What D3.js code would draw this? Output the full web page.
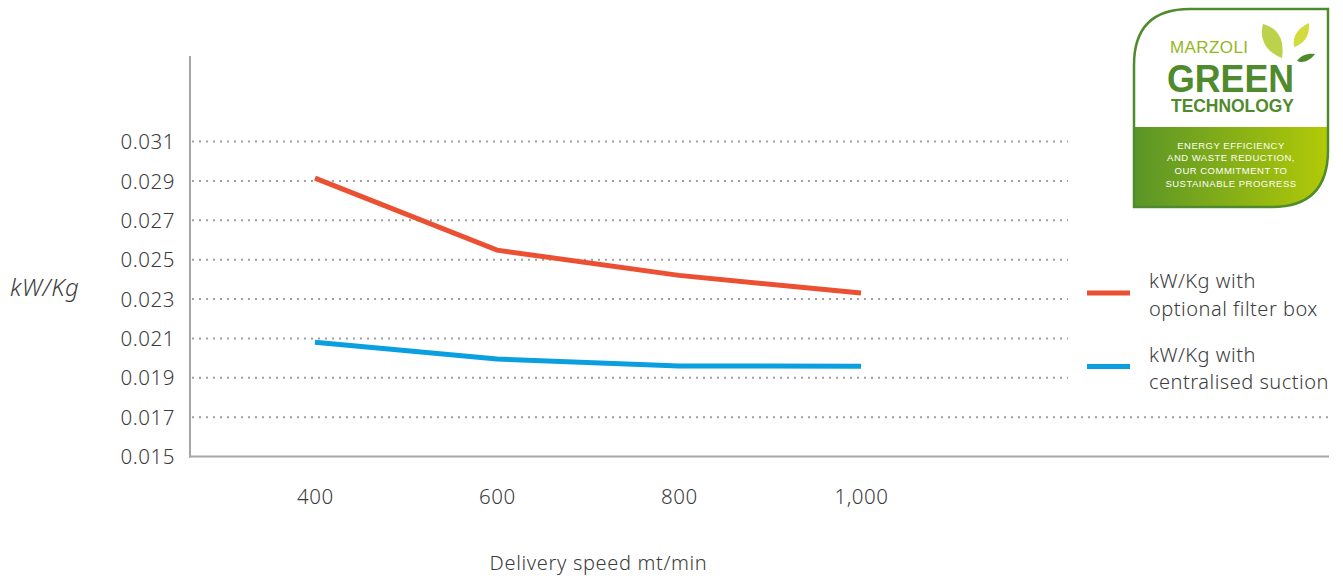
<!DOCTYPE html>
<html>
<head>
<meta charset="utf-8">
<script src="https://cdn.jsdelivr.net/npm/d3@7"></script>
<style>
  html, body { margin: 0; padding: 0; background: #fff; }
  text { font-family: "Noto Sans", sans-serif; font-weight: 300; fill: #3c3c3c; }
  .logo { font-family: "Liberation Sans", sans-serif; }
</style>
</head>
<body>
<div id="chart"></div>
<script>
// chart data
const speeds = [400, 600, 800, 1000];
const filterBox = [0.02914, 0.02548, 0.0242, 0.0233];
const centralised = [0.0208, 0.01995, 0.0196, 0.01958];
const yTicks = [0.015, 0.017, 0.019, 0.021, 0.023, 0.025, 0.027, 0.029, 0.031];
const logoBody = ["ENERGY EFFICIENCY", "AND WASTE REDUCTION,", "OUR COMMITMENT TO", "SUSTAINABLE PROGRESS"];

const svg = d3.select("#chart").append("svg")
  .attr("width", 1343).attr("height", 576)
  .style("display", "block");

const xScale = d3.scaleLinear().domain([400, 1000]).range([315, 861]);
const yScale = d3.scaleLinear().domain([0.015, 0.031]).range([456.5, 141.5]);

// dotted grid, the lowest one runs on past the others
svg.append("g").selectAll("line")
  .data(yTicks.slice(1))
  .enter().append("line")
  .attr("x1", 192)
  .attr("x2", d => d === 0.017 ? 1329 : 1068)
  .attr("y1", d => yScale(d))
  .attr("y2", d => yScale(d))
  .attr("stroke", "#a0a0a0")
  .attr("stroke-width", 2)
  .attr("stroke-dasharray", "2 5");

// axes
const leftAxis = d3.axisLeft(yScale).tickValues(yTicks).tickSize(0).tickPadding(15).tickFormat(d3.format(".3f"));
const yG = svg.append("g").attr("transform", "translate(190,0)").call(leftAxis);
yG.select(".domain").remove();
yG.selectAll("text").style("font-size", "20.5px").style("letter-spacing", "0.55px").attr("dy", "0.35em");

const bottomAxis = d3.axisBottom(xScale).tickValues(speeds).tickSize(0).tickPadding(33).tickFormat(d3.format(","));
const xG = svg.append("g").attr("transform", "translate(0,456.5)").call(bottomAxis);
xG.select(".domain").remove();
xG.selectAll("text").style("font-size", "20.5px").style("letter-spacing", "0.55px");

svg.append("line").attr("x1", 190).attr("x2", 190).attr("y1", 56).attr("y2", 457.5)
  .attr("stroke", "#a6a6a6").attr("stroke-width", 2);
svg.append("line").attr("x1", 189).attr("x2", 1329).attr("y1", 456.5).attr("y2", 456.5)
  .attr("stroke", "#a6a6a6").attr("stroke-width", 2);

// series
const line = d3.line().x((d, i) => xScale(speeds[i])).y(d => yScale(d));
svg.append("path").datum(filterBox).attr("d", line)
  .attr("fill", "none").attr("stroke", "#ec5033").attr("stroke-width", 5);
svg.append("path").datum(centralised).attr("d", line)
  .attr("fill", "none").attr("stroke", "#0aa0e0").attr("stroke-width", 5);

// axis titles
svg.append("text").attr("x", 10).attr("y", 296).style("font-size", "24px").style("font-style", "italic")
  .style("letter-spacing", "0.6px").text("kW/Kg");
svg.append("text").attr("x", 598.5).attr("y", 570).attr("text-anchor", "middle")
  .style("font-size", "20px").style("letter-spacing", "0.65px").text("Delivery speed mt/min");

// legend
const legend = [
  { color: "#ec5033", y: 293, lines: ["kW/Kg with", "optional filter box"], ty: [287.5, 315.5] },
  { color: "#0aa0e0", y: 366.5, lines: ["kW/Kg with", "centralised suction"], ty: [361.5, 388.5] }
];
legend.forEach(l => {
  svg.append("line").attr("x1", 1087).attr("x2", 1130).attr("y1", l.y).attr("y2", l.y)
    .attr("stroke", l.color).attr("stroke-width", 5);
  l.lines.forEach((t, i) => {
    svg.append("text").attr("x", 1149).attr("y", l.ty[i])
      .style("font-size", "20px").style("letter-spacing", "0.5px").text(t);
  });
});

// badge
const defs = svg.append("defs");
const grad = defs.append("linearGradient").attr("id", "badgeGrad");
grad.append("stop").attr("offset", "0%").attr("stop-color", "#5a9527");
grad.append("stop").attr("offset", "100%").attr("stop-color", "#b2ca07");
const badgeOutline = "M1134 207 L1134 65 Q1134 9 1190 9 L1328 9 L1328 150 Q1328 207 1272 207 Z";
defs.append("clipPath").attr("id", "badgeClip").append("path").attr("d", badgeOutline);
svg.append("rect").attr("x", 1134).attr("y", 127).attr("width", 195).attr("height", 81)
  .attr("fill", "url(#badgeGrad)").attr("clip-path", "url(#badgeClip)");
svg.append("path").attr("d", badgeOutline).attr("fill", "none").attr("stroke", "#4f8a2c").attr("stroke-width", 2.5);

svg.append("path").attr("d", "M1263 24 C1277 28 1285 38 1282 58 C1270 54 1258 42 1263 24 Z").attr("fill", "#bcd24d");
svg.append("path").attr("d", "M1309 23 C1310 36 1304 44 1294 47 C1292 36 1298 28 1309 23 Z").attr("fill", "#d3dc3e");
svg.append("path").attr("d", "M1315 54 C1309 62 1302 63 1297 61 C1301 55 1308 53 1315 54 Z").attr("fill", "#4f8a2c");

svg.append("text").attr("class", "logo").attr("x", 1170).attr("y", 53).text("MARZOLI")
  .style("font-size", "17px").style("font-weight", 400).style("fill", "#93b81c").attr("textLength", 78);
svg.append("text").attr("class", "logo").attr("x", 1167).attr("y", 92).text("GREEN")
  .style("font-size", "39px").style("font-weight", 700).style("fill", "#4f8a2c")
  .attr("textLength", 127).attr("lengthAdjust", "spacingAndGlyphs");
svg.append("text").attr("class", "logo").attr("x", 1171).attr("y", 112).text("TECHNOLOGY")
  .style("font-size", "17.5px").style("font-weight", 700).style("fill", "#4f8a2c")
  .attr("textLength", 123).attr("lengthAdjust", "spacingAndGlyphs");
svg.selectAll(".logo-body").data(logoBody).enter().append("text")
  .attr("class", "logo logo-body")
  .attr("x", 1231).attr("y", (d, i) => 148.5 + i * 12.7)
  .attr("text-anchor", "middle")
  .style("font-size", "9.5px").style("font-weight", 400).style("letter-spacing", "0.5px").style("fill", "#fff")
  .text(d => d);
</script>
</body>
</html>
